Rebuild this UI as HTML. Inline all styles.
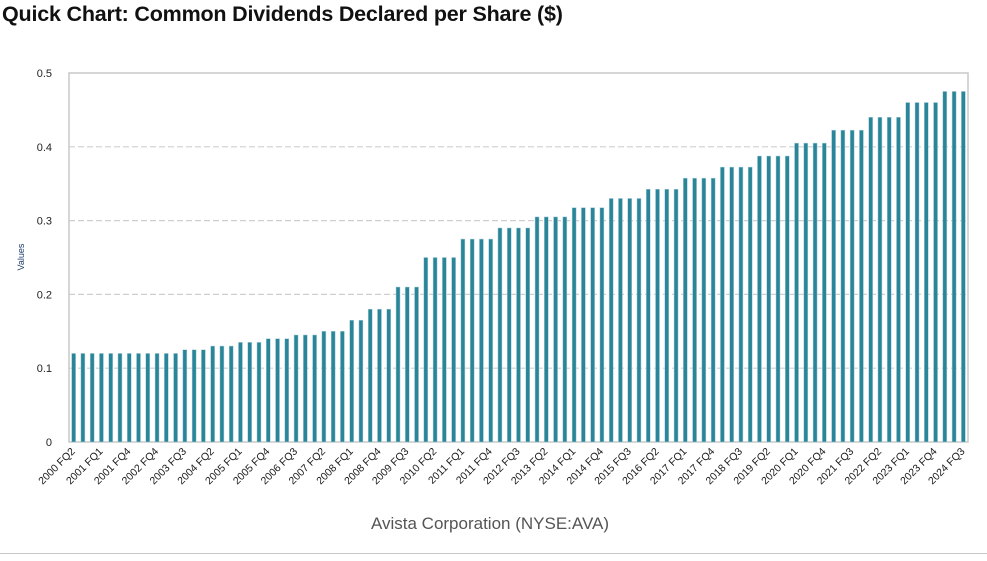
<!DOCTYPE html>
<html><head><meta charset="utf-8"><style>
body{margin:0;background:#fff;width:987px;height:561px;overflow:hidden;font-family:"Liberation Sans",sans-serif}
#title{position:absolute;left:2px;top:2px;font-size:21.5px;font-weight:bold;color:#111;letter-spacing:-0.2px}
</style></head><body>
<div id="title">Quick Chart: Common Dividends Declared per Share ($)</div>
<svg id="chart" width="987" height="561" style="position:absolute;left:0;top:0"></svg>
<script>
const categories = (function(){const c=[];for(let y=2000;y<=2024;y++){for(let q=1;q<=4;q++){if(y===2000&&q===1)continue;if(y===2002&&q===3)continue;if(y===2024&&q===4)continue;c.push(y+' FQ'+q);}}return c;})();
const values = [0.12,0.12,0.12,0.12,0.12,0.12,0.12,0.12,0.12,0.12,0.12,0.12,
0.125,0.125,0.125,0.13,0.13,0.13,0.135,0.135,0.135,0.14,0.14,0.14,0.145,0.145,0.145,0.15,0.15,0.15,
0.165,0.165,0.18,0.18,0.18,0.21,0.21,0.21,
0.25,0.25,0.25,0.25,0.275,0.275,0.275,0.275,0.29,0.29,0.29,0.29,0.305,0.305,0.305,0.305,
0.3175,0.3175,0.3175,0.3175,0.33,0.33,0.33,0.33,0.3425,0.3425,0.3425,0.3425,0.3575,0.3575,0.3575,0.3575,
0.3725,0.3725,0.3725,0.3725,0.3875,0.3875,0.3875,0.3875,0.405,0.405,0.405,0.405,0.4225,0.4225,0.4225,0.4225,
0.44,0.44,0.44,0.44,0.46,0.46,0.46,0.46,0.475,0.475,0.475];
const yTicks = [0,0.1,0.2,0.3,0.4,0.5];
const yTickLabels = ['0','0.1','0.2','0.3','0.4','0.5'];

const NS='http://www.w3.org/2000/svg', svg=document.getElementById('chart');
const L=69,R=968,T=73,B=442,YMAX=0.5;
const slot=(R-L)/categories.length;
const xC=i=>L+slot*(i+0.5);
const yS=v=>B-(v/YMAX)*(B-T);
function mk(tag,a,p){const e=document.createElementNS(NS,tag);for(const k in a)e.setAttribute(k,a[k]);(p||svg).appendChild(e);return e;}

yTicks.forEach((t,i)=>{
  if(t>0&&t<YMAX){const g=mk('line',{x1:L,x2:R,y1:yS(t),y2:yS(t),stroke:'#cfcfcf','stroke-width':1.2,'stroke-dasharray':'6,3'});
  
  }
  const tx=mk('text',{x:52,y:yS(t)+4,'text-anchor':'end','font-size':11,fill:'#222'});tx.textContent=yTickLabels[i];
  
  
});
const frame=mk('rect',{x:L,y:T,width:R-L,height:B-T,fill:'none',stroke:'#c8c8c8','stroke-width':1.5});



values.forEach((v,i)=>{
  const b=mk('rect',{x:xC(i)-2,y:yS(v),width:4,height:B-yS(v),fill:'#2a8599',stroke:'#a9d0da','stroke-width':0.5});
  
  
});
categories.forEach((c,i)=>{
  if(i%3!==0)return;
  const x=xC(i)+2,y=452;
  const t=mk('text',{x:x,y:y,'text-anchor':'end','font-size':10.5,fill:'#1a1a1a',transform:`rotate(-45 ${x} ${y})`});
  t.textContent=c;
  
  
});
const yt=mk('text',{x:24,y:257,'text-anchor':'middle','font-size':9,fill:'#1a3a6a',transform:'rotate(-90 24 257)'});yt.textContent='Values';


const xt=mk('text',{x:490,y:529,'text-anchor':'middle','font-size':17,fill:'#555'});xt.textContent='Avista Corporation (NYSE:AVA)';


const sep=mk('line',{x1:0,x2:987,y1:553.5,y2:553.5,stroke:'#c8c8c8','stroke-width':1});


</script>
</body></html>
